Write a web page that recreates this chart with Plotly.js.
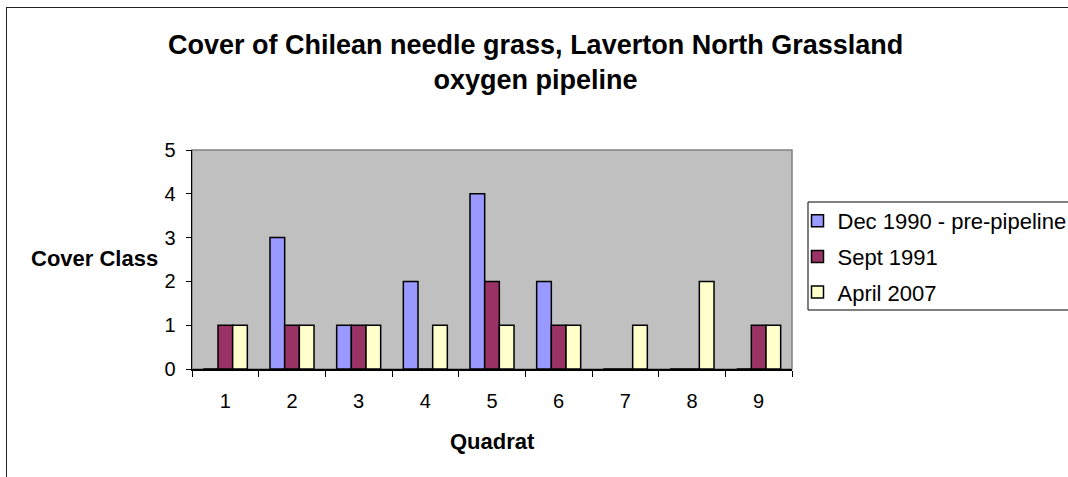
<!DOCTYPE html>
<html><head><meta charset="utf-8">
<script src="https://cdn.plot.ly/plotly-3.0.1.min.js"></script>
<style>
html,body{margin:0;background:#fff;overflow:hidden;width:1068px;height:477px;}
#frame{position:absolute;left:6px;top:7px;width:1200px;height:469px;border-left:1px solid #222;border-top:1px solid #222;}
#chart{width:1200px;height:469px;}
</style></head><body>
<div id="frame"><div id="chart"></div></div>
<script>
var quadrats = ['1','2','3','4','5','6','7','8','9'];
var dec1990 = [0,3,1,2,4,2,0,0,0];
var sept1991 = [1,1,1,0,2,1,0,0,1];
var april2007 = [1,1,1,1,1,1,1,2,1];
var seriesNames = ['Dec 1990 - pre-pipeline','Sept 1991','April 2007'];
var colors = ['#9999FF','#993366','#FFFFCC'];
var seriesVals = [dec1990, sept1991, april2007];

var traces = seriesVals.map(function(v,i){
  return {type:'bar', x:quadrats, y:v, name:seriesNames[i], legendgroup:'g'+i,
    marker:{color:colors[i], line:{color:'#000', width:1.5}},
    hoverinfo:'none'};
});
var font = 'Arial, "Liberation Sans", sans-serif';
var OX=7, OY=8, CW=1200, CH=469;
var L=192-OX, T=150-OY, W=600, H=219;
function px(x){return (x-OX-L)/W;}
function py(y){return 1-(y-OY-T)/H;}
var layout = {
  width:CW, height:CH,
  margin:{l:L, r:CW-L-W, t:T, b:CH-T-H},
  paper_bgcolor:'#fff', plot_bgcolor:'#C0C0C0',
  barmode:'group', bargap:0.34, bargroupgap:0,
  font:{family:font, color:'#000', size:20},
  showlegend:true,
  legend:{x:px(797.5), y:py(200), xanchor:'left', yanchor:'top', borderwidth:0,
    font:{size:22, family:font}, traceorder:'grouped', tracegroupgap:4, bgcolor:'rgba(0,0,0,0)'},
  xaxis:{type:'category', showline:true, linecolor:'#000', linewidth:1.5, ticks:'outside',
    tickson:'boundaries', ticklen:6, tickcolor:'#000', showgrid:false, zeroline:false,
    ticklabelstandoff:13, tickfont:{size:20, family:font}},
  yaxis:{range:[0,5], dtick:1, showline:true, linecolor:'#000', linewidth:1.5, ticks:'outside',
    ticklen:5, tickcolor:'#000', showgrid:false, zeroline:false, ticklabelstandoff:6,
    tickfont:{size:20, family:font}},
  shapes:[
    {type:'rect', xref:'paper', yref:'paper', x0:0, x1:1, y0:0, y1:1,
     line:{color:'#808080', width:1.5}, layer:'below'},
    {type:'rect', xref:'paper', yref:'paper', x0:px(808), x1:px(1100), y0:py(310), y1:py(202),
     line:{color:'#000', width:1}, layer:'above'}
  ],
  annotations:[
    {text:'<b>Cover of Chilean needle grass, Laverton North Grassland<br>oxygen pipeline</b>',
     xref:'paper', yref:'paper', x:px(535), y:py(62.5), yanchor:'middle', xanchor:'center',
     showarrow:false, font:{size:27, family:font}, align:'center'},
    {text:'<b>Cover Class</b>', xref:'paper', yref:'paper', x:px(94), y:py(258),
     xanchor:'center', yanchor:'middle', showarrow:false, font:{size:22, family:font}},
    {text:'<b>Quadrat</b>', xref:'paper', yref:'paper', x:px(492), y:py(441),
     xanchor:'center', yanchor:'middle', showarrow:false, font:{size:22, family:font}}
  ]
};
Plotly.newPlot('chart', traces, layout, {staticPlot:true});
</script></body></html>
